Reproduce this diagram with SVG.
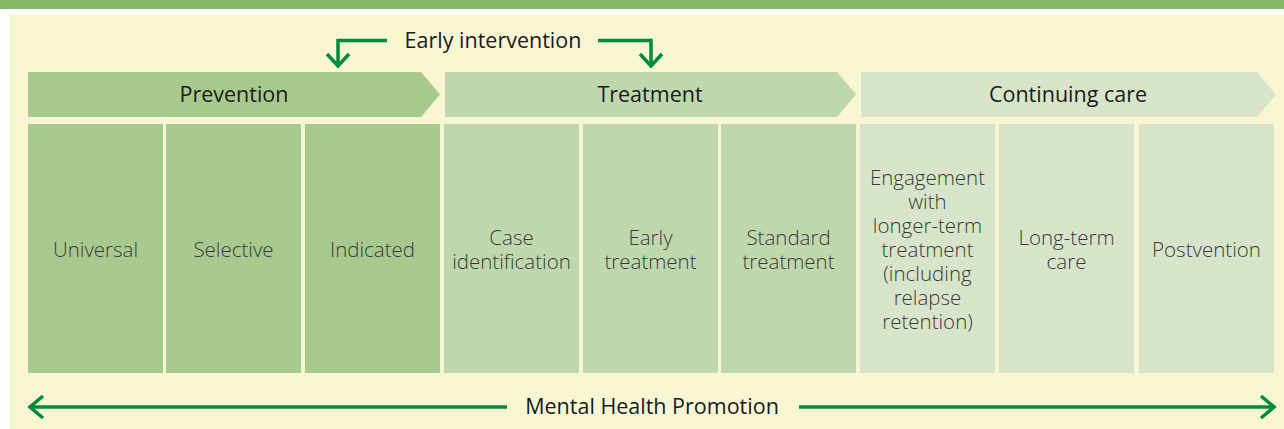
<svg xmlns="http://www.w3.org/2000/svg" width="1284" height="429" viewBox="0 0 1284 429">
<defs>
<style>
.hdr{font-family:"Open Sans","Liberation Sans",sans-serif;font-size:21.5px;fill:#1a1a1a;text-anchor:middle}
.col{font-family:"Open Sans","Liberation Sans",sans-serif;font-size:20.5px;font-weight:300;fill:#3a3a3a;text-anchor:middle}
.arr{fill:none;stroke:#008a3e;stroke-width:3.5}
.p{fill:#a8c98e}.t{fill:#bfd7ac}.c{fill:#d7e4c9}
</style>
</defs>
<rect x="0" y="0" width="1284" height="429" fill="#ffffff"/>
<rect x="0" y="0" width="1284" height="9" fill="#87b865"/>
<rect x="9" y="14" width="1275" height="415" fill="#f8f5d3"/>

<g id="prevention-header"><polygon class="p" points="28,72 421,72 440,94.5 421,117 28,117"/><text class="hdr" x="234" y="102">Prevention</text></g>
<g id="treatment-header"><polygon class="t" points="445,72 837,72 856,94.5 837,117 445,117"/><text class="hdr" x="650" y="102">Treatment</text></g>
<g id="continuing-header"><polygon class="c" points="861,72 1257,72 1276,94.5 1257,117 861,117"/><text class="hdr" x="1068" y="102">Continuing care</text></g>

<g id="universal"><rect class="p" x="28" y="124" width="135" height="249"/><text class="col" x="95.5" y="257">Universal</text></g>
<g id="selective"><rect class="p" x="166" y="124" width="135" height="249"/><text class="col" x="233.5" y="257">Selective</text></g>
<g id="indicated"><rect class="p" x="305" y="124" width="135" height="249"/><text class="col" x="372.5" y="257">Indicated</text></g>
<g id="case-identification"><rect class="t" x="444" y="124" width="135" height="249"/><text class="col" x="511.5" y="245">Case</text><text class="col" x="511.5" y="269">identification</text></g>
<g id="early-treatment"><rect class="t" x="583" y="124" width="135" height="249"/><text class="col" x="650.5" y="245">Early</text><text class="col" x="650.5" y="269">treatment</text></g>
<g id="standard-treatment"><rect class="t" x="721" y="124" width="135" height="249"/><text class="col" x="788.5" y="245">Standard</text><text class="col" x="788.5" y="269">treatment</text></g>
<g id="engagement"><rect class="c" x="860" y="124" width="135" height="249"/>
<text class="col" x="927.5" y="185">Engagement</text><text class="col" x="927.5" y="209">with</text><text class="col" x="927.5" y="233">longer-term</text><text class="col" x="927.5" y="257">treatment</text><text class="col" x="927.5" y="281">(including</text><text class="col" x="927.5" y="305">relapse</text><text class="col" x="927.5" y="329">retention)</text></g>
<g id="long-term-care"><rect class="c" x="999" y="124" width="135" height="249"/><text class="col" x="1066.5" y="245">Long-term</text><text class="col" x="1066.5" y="269">care</text></g>
<g id="postvention"><rect class="c" x="1139" y="124" width="135" height="249"/><text class="col" x="1206.5" y="257">Postvention</text></g>

<g id="early-intervention"><text class="hdr" x="493" y="48">Early intervention</text></g>
<g id="mental-health-promotion"><text class="hdr" x="652" y="414">Mental Health Promotion</text></g>

<g id="connectors">
<polyline class="arr" points="387,40.5 338,40.5 338,66"/>
<polyline class="arr" points="327,54 338,66 349,54"/>
<polyline class="arr" points="598,40.5 651,40.5 651,66"/>
<polyline class="arr" points="640,54 651,66 662,54"/>
<line class="arr" x1="30" y1="407" x2="507" y2="407"/>
<polyline class="arr" points="43,396 30,407 43,418"/>
<line class="arr" x1="799" y1="407" x2="1273" y2="407"/>
<polyline class="arr" points="1261,396 1274,407 1261,418"/>
</g>
</svg>
